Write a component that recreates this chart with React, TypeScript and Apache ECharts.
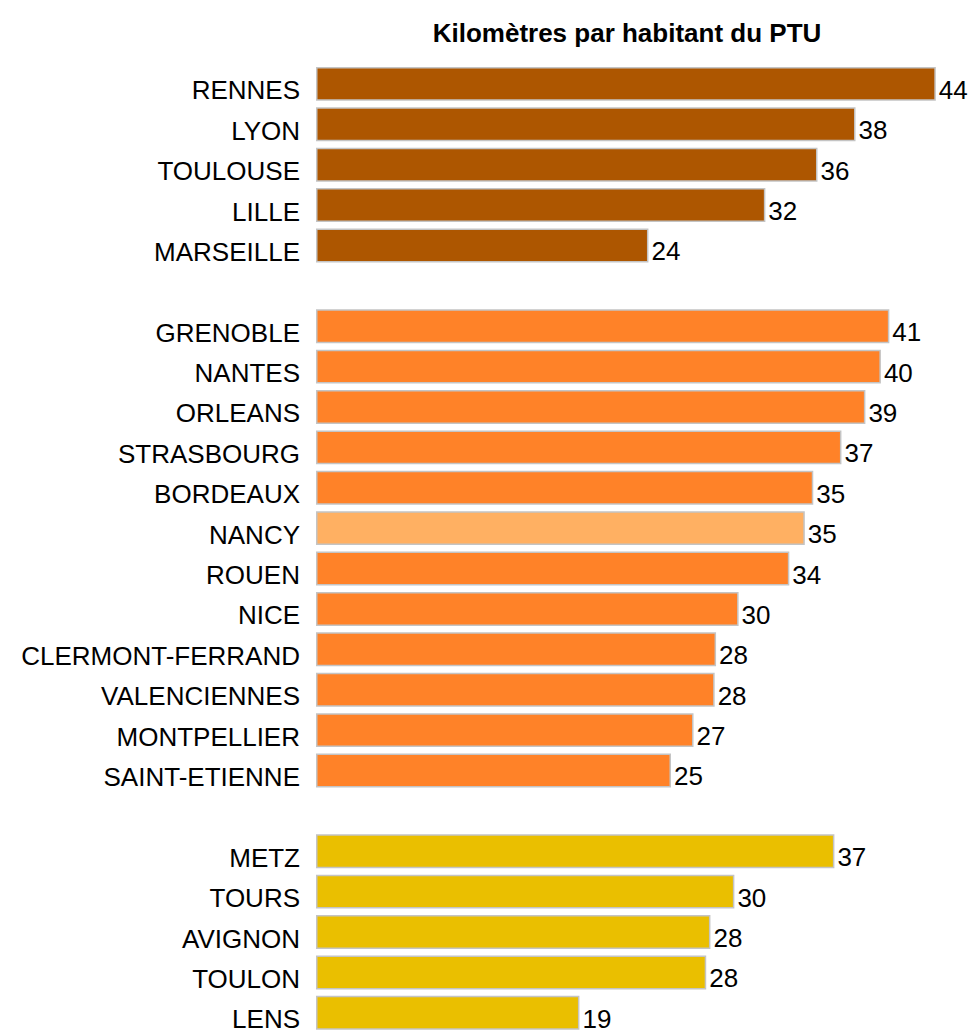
import React, { useEffect, useRef } from "react";
import * as echarts from "echarts";

const TITLE = "Kilomètres par habitant du PTU";

const groupLarge = ["RENNES", "LYON", "TOULOUSE", "LILLE", "MARSEILLE"];
const valuesLarge = [44.0, 38.3, 35.6, 31.9, 23.6];

const groupMedium = [
  "GRENOBLE", "NANTES", "ORLEANS", "STRASBOURG", "BORDEAUX", "NANCY",
  "ROUEN", "NICE", "CLERMONT-FERRAND", "VALENCIENNES", "MONTPELLIER", "SAINT-ETIENNE",
];
const valuesMedium = [40.7, 40.1, 39.0, 37.3, 35.3, 34.7, 33.6, 30.0, 28.4, 28.3, 26.8, 25.2];

const groupSmall = ["METZ", "TOURS", "AVIGNON", "TOULON", "LENS"];
const valuesSmall = [36.8, 29.7, 28.0, 27.7, 18.7];

const HIGHLIGHT = "NANCY";

const COLOR_LARGE = "#AD5600";
const COLOR_MEDIUM = "#FF8228";
const COLOR_HIGHLIGHT = "#FFB062";
const COLOR_SMALL = "#EABF00";

export default function App() {
  const ref = useRef<HTMLDivElement>(null);

  useEffect(() => {
    document.body.style.margin = "0";
    document.body.style.overflow = "hidden";
    if (!ref.current) return;
    const chart = echarts.init(ref.current, undefined, { renderer: "svg" });

    const categories: string[] = [];
    const data: any[] = [];
    const pushGroup = (names: string[], vals: number[], color: string) => {
      names.forEach((n, i) => {
        categories.push(n);
        data.push({
          value: vals[i],
          itemStyle: { color: n === HIGHLIGHT ? COLOR_HIGHLIGHT : color },
        });
      });
    };
    pushGroup(groupLarge, valuesLarge, COLOR_LARGE);
    categories.push("__gap1");
    data.push({ value: null, label: { show: false } });
    pushGroup(groupMedium, valuesMedium, COLOR_MEDIUM);
    categories.push("__gap2");
    data.push({ value: null, label: { show: false } });
    pushGroup(groupSmall, valuesSmall, COLOR_SMALL);

    const font = "'Liberation Sans', Arial, sans-serif";

    chart.setOption({
      animation: false,
      backgroundColor: "#ffffff",
      graphic: [
        {
          type: "text",
          x: 627,
          y: 33,
          style: {
            text: TITLE,
            font: `bold 26px ${font}`,
            fill: "#000",
            textAlign: "center",
            textVerticalAlign: "middle",
          },
        },
      ],
      grid: { left: 316, right: 8, top: 63.7, bottom: -4, containLabel: false },
      xAxis: {
        type: "value",
        min: 0,
        max: 46,
        show: false,
        splitLine: { show: false },
      },
      yAxis: {
        type: "category",
        inverse: true,
        data: categories,
        axisLine: { show: false },
        axisTick: { show: false },
        axisLabel: {
          margin: 16,
          fontSize: 26,
          fontFamily: font,
          color: "#000",
          verticalAlign: "top",
          lineHeight: 13,
          formatter: (v: string) => (v.startsWith("__gap") ? "" : v),
        },
      },
      series: [
        {
          type: "bar",
          data,
          barCategoryGap: "16%",
          itemStyle: { borderColor: "#c4c4c4", borderWidth: 1.5 },
          label: {
            show: true,
            position: "right",
            distance: 3,
            offset: [0, 6],
            fontSize: 26,
            fontFamily: font,
            color: "#000",
            formatter: (p: any) => (p.value == null ? "" : String(Math.round(p.value))),
          },
        },
      ],
    });

    return () => chart.dispose();
  }, []);

  return <div ref={ref} style={{ width: 972, height: 1033 }} />;
}
